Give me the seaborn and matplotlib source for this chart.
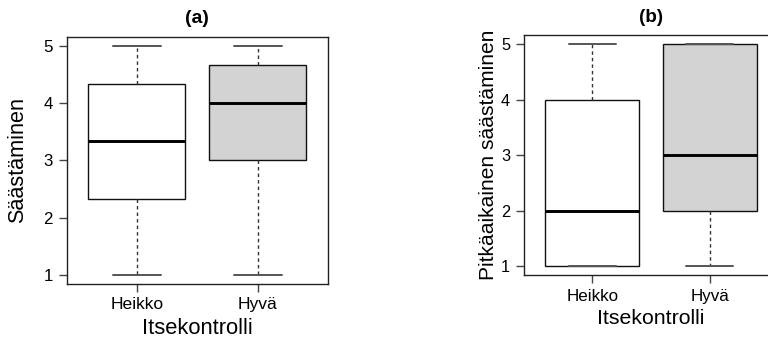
import numpy as np
import pandas as pd
import matplotlib
matplotlib.use("Agg")
import matplotlib.pyplot as plt
import seaborn as sns

sns.set_theme(style="white")
plt.rcParams["font.family"] = ["Liberation Sans", "DejaVu Sans"]
plt.rcParams["text.color"] = "black"
plt.rcParams["axes.labelcolor"] = "black"
plt.rcParams["xtick.color"] = "black"
plt.rcParams["ytick.color"] = "black"

# Self-control groups
groups = ["Heikko", "Hyvä"]
fill_colors = ["white", "#d3d3d3"]

# Five-number summaries (min, Q1, median, Q3, max) per group
saving_heikko = [1.0, 2.333, 3.333, 4.333, 5.0]
saving_hyva = [1.0, 3.0, 4.0, 4.667, 5.0]
longterm_heikko = [1.0, 1.0, 2.0, 4.0, 5.0]
longterm_hyva = [1.0, 2.0, 3.0, 5.0, 5.0]

y_ticks = [1, 2, 3, 4, 5]


def frame(values_a, values_b):
    return pd.DataFrame({
        "Itsekontrolli": [groups[0]] * len(values_a) + [groups[1]] * len(values_b),
        "arvo": list(values_a) + list(values_b),
    })


W, H = 768, 338
fig = plt.figure(figsize=(W / 100, H / 100), dpi=100)

panels = [
    dict(data=frame(saving_heikko, saving_hyva), title="(a)", ylabel="Säästäminen",
         rect=[66.7, 36.7, 328.0, 284.0], scale=1.0, ypad=11, title_pad=10),
    dict(data=frame(longterm_heikko, longterm_hyva), title="(b)",
         ylabel="Pitkäaikainen säästäminen",
         rect=[524.0, 35.0, 778.0, 275.4], scale=0.97, ypad=2, title_pad=9.6),
]

for p in panels:
    x0, y0, x1, y1 = p["rect"]
    s = p["scale"]
    ax = fig.add_axes([x0 / W, 1 - y1 / H, (x1 - x0) / W, (y1 - y0) / H])
    sns.boxplot(
        data=p["data"], x="Itsekontrolli", y="arvo", hue="Itsekontrolli",
        order=groups, hue_order=groups, palette=fill_colors, legend=False,
        width=0.8, whis=1.5, fliersize=0, linecolor="#111111", linewidth=1.0,
        whiskerprops=dict(color="#333333", linestyle=(0, (2.5, 2.2)), linewidth=1.0),
        capprops=dict(color="#555555", linewidth=1.4),
        medianprops=dict(color="black", linewidth=2.1),
        ax=ax,
    )
    ax.set_xlim(-0.58, 1.58)
    ax.set_ylim(0.84, 5.16)
    ax.set_yticks(y_ticks)
    ax.set_yticklabels([str(t) for t in y_ticks])
    for side in ["left", "right", "top", "bottom"]:
        ax.spines[side].set_visible(True)
        ax.spines[side].set_color("#222222")
        ax.spines[side].set_linewidth(1.0)
    ax.tick_params(axis="both", direction="out", length=5.5, width=1.0,
                   color="#444444", left=True, bottom=True)
    ax.tick_params(axis="y", labelsize=12.2 * s, pad=4.5)
    ax.tick_params(axis="x", labelsize=12.6 * s, pad=4)
    ax.set_title(p["title"], fontsize=14 * s, fontweight="bold", pad=p["title_pad"])
    ax.set_xlabel("Itsekontrolli", fontsize=15.8 * s, labelpad=4)
    ax.set_ylabel(p["ylabel"], fontsize=15.6 * s, labelpad=p["ypad"])

fig.savefig("out.png", dpi=100)
